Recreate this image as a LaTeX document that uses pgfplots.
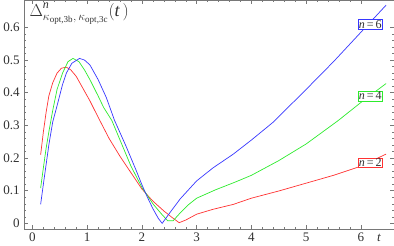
\documentclass[border=0pt]{standalone}
\usepackage{fontspec}
\setmainfont{Liberation Serif}
\usepackage{pgfplots}
\pgfplotsset{compat=1.18}
\definecolor{cR}{RGB}{255,50,50}
\definecolor{cG}{RGB}{45,235,45}
\definecolor{cB}{RGB}{55,55,255}
\definecolor{frm}{RGB}{120,120,120}
\definecolor{lbl}{RGB}{50,50,50}
\newcommand{\sub}[1]{\mbox{\fontsize{9}{10}\selectfont #1}}
\begin{document}
\begin{tikzpicture}
\begin{axis}[
  scale only axis, width=368pt, height=228pt,
  xmin=-0.15, xmax=6.6, ymin=-0.018, ymax=0.683,
  axis line style={frm, line width=0.5pt},
  every tick/.style={frm, line width=0.4pt},
  tick align=inside,
  major tick length=4pt, minor tick length=2pt,
  xtick={0,1,2,3,4,5,6}, minor x tick num=4,
  ytick={0,0.1,0.2,0.3,0.4,0.5,0.6}, minor y tick num=4,
  /pgf/number format/assume math mode=true,
  ticklabel style={font=\fontsize{13}{14}\selectfont, text=lbl},
  yticklabel style={xshift=-1pt},
  xticklabel style={yshift=-0.5pt},
  xlabel={\fontsize{13}{14}\selectfont\itshape t},
  xlabel style={at={(axis description cs:0.960,0)}, anchor=north, yshift=-1.5pt, text=lbl},
  every axis plot/.append style={line width=0.7pt},
  clip=true,
]
\addplot[cR] coordinates {(0.15,0.21)(0.2,0.28)(0.25,0.34)(0.3,0.39)(0.37,0.43)(0.45,0.46)(0.53,0.475)(0.62,0.478)(0.7,0.47)(0.8,0.45)(0.9,0.42)(1.05,0.375)(1.2,0.325)(1.4,0.26)(1.6,0.205)(1.8,0.155)(2.0,0.105)(2.2,0.068)(2.4,0.038)(2.55,0.018)(2.68,0.002)(2.8,0.01)(3.0,0.028)(3.3,0.043)(3.67,0.058)(4.0,0.077)(4.5,0.099)(5.0,0.123)(5.5,0.147)(6.0,0.175)(6.46,0.212)};
\addplot[cG] coordinates {(0.15,0.108)(0.2,0.17)(0.25,0.23)(0.3,0.28)(0.37,0.345)(0.45,0.41)(0.55,0.46)(0.65,0.495)(0.74,0.505)(0.85,0.495)(0.95,0.47)(1.05,0.44)(1.2,0.39)(1.3,0.355)(1.45,0.315)(1.6,0.255)(1.8,0.175)(2.0,0.11)(2.2,0.06)(2.35,0.03)(2.47,0.008)(2.57,0.008)(2.7,0.032)(2.85,0.057)(3.0,0.077)(3.35,0.103)(3.7,0.126)(4.0,0.147)(4.5,0.192)(5.0,0.243)(5.58,0.314)(6.0,0.37)(6.46,0.428)};
\addplot[cB] coordinates {(0.15,0.058)(0.2,0.12)(0.25,0.18)(0.3,0.24)(0.37,0.31)(0.45,0.36)(0.55,0.425)(0.62,0.46)(0.72,0.49)(0.86,0.505)(0.95,0.5)(1.05,0.485)(1.2,0.44)(1.35,0.385)(1.5,0.315)(1.7,0.24)(1.9,0.16)(2.0,0.118)(2.1,0.08)(2.2,0.045)(2.3,0.015)(2.37,0.0)(2.5,0.03)(2.7,0.075)(3.0,0.13)(3.3,0.17)(3.67,0.212)(4.0,0.255)(4.4,0.31)(5.0,0.41)(5.5,0.495)(6.0,0.585)(6.46,0.668)};
\node[draw=cB, fill=white, inner sep=0.8pt, text=lbl, font=\fontsize{12}{13}\selectfont] at (axis cs:6.17,0.609) {\itshape n\upshape\,=\,6};
\node[draw=cG, fill=white, inner sep=0.8pt, text=lbl, font=\fontsize{12}{13}\selectfont] at (axis cs:6.17,0.39) {\itshape n\upshape\,=\,4};
\node[draw=cR, fill=white, inner sep=0.8pt, text=lbl, font=\fontsize{12}{13}\selectfont] at (axis cs:6.17,0.185) {\itshape n\upshape\,=\,2};
\node[anchor=north west, inner sep=0pt, text=lbl, font=\fontsize{18}{19}\selectfont] at (axis description cs:0.014,0.99) {$\Delta^{\raisebox{1.5pt}{\fontsize{12}{13}\selectfont\itshape n}}_{\kappa_{\sub{opt,3b}},\,\kappa_{\sub{opt,3c}}}\bigl(\mbox{\itshape t}\,\bigr)$};
\end{axis}
\end{tikzpicture}
\end{document}
